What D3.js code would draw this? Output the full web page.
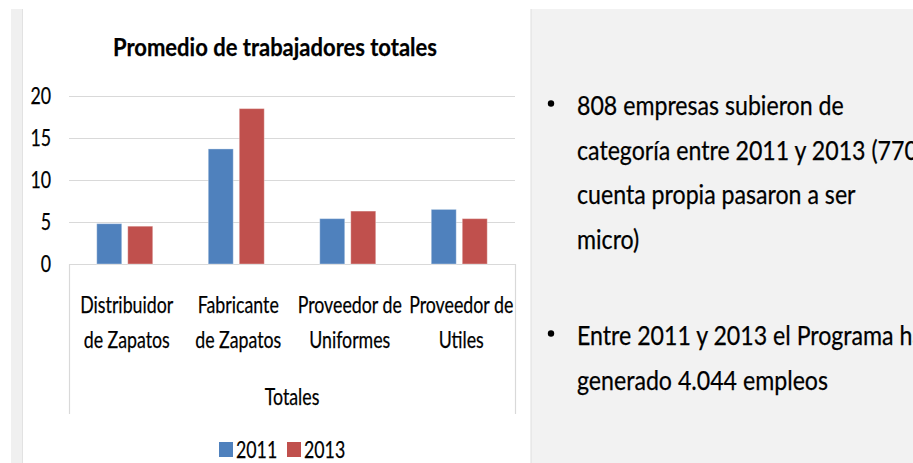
<!DOCTYPE html>
<html>
<head>
<meta charset="utf-8">
<script src="https://cdn.jsdelivr.net/npm/d3@7"></script>
<style>
  html, body { margin: 0; padding: 0; background: #fff; }
  svg { display: block; }
  text { font-family: Lato, "Liberation Sans", Arial, sans-serif; fill: #000; stroke: #000; stroke-width: 0.25px; }
</style>
</head>
<body>
<div id="chart"></div>
<script>
// datos
const categories = ["Distribuidor de Zapatos", "Fabricante de Zapatos", "Proveedor de Uniformes", "Proveedor de Utiles"];
const categoryLines = [["Distribuidor", "de Zapatos"], ["Fabricante", "de Zapatos"], ["Proveedor de", "Uniformes"], ["Proveedor de", "Utiles"]];
const years = ["2011", "2013"];
const values2011 = [4.8, 13.7, 5.4, 6.5];
const values2013 = [4.5, 18.5, 6.3, 5.4];
const yTicks = [0, 5, 10, 15, 20];
const chartTitle = "Promedio de trabajadores totales";
const axisTitle = "Totales";
const notes = [
  ["808 empresas subieron de", "categoría entre 2011 y 2013 (770", "cuenta propia pasaron a ser", "micro)"],
  ["Entre 2011 y 2013 el Programa ha", "generado 4.044 empleos"]
];

const W = 913, H = 463;
const colors = { "2011": "#4f81bd", "2013": "#c0504d" };
const FS = 24;      // texto del grafico
const FS_NOTE = 26.5;

const svg = d3.select("#chart").append("svg")
  .attr("width", W).attr("height", H);

// fondo de la diapositiva
svg.append("rect").attr("x", 11).attr("y", 9).attr("width", 11).attr("height", H - 9).attr("fill", "#f0f0f0");
svg.append("line").attr("x1", 22.5).attr("x2", 22.5).attr("y1", 9).attr("y2", H).attr("stroke", "#e2e2e2");
svg.append("rect").attr("x", 531).attr("y", 9).attr("width", W - 531).attr("height", H - 9).attr("fill", "#f2f2f2");
svg.append("line").attr("x1", 531).attr("x2", 531).attr("y1", 9).attr("y2", H).attr("stroke", "#dedede");

// ancho de texto tipo Calibri comprimido
function measure(str, size, weight) {
  const t = svg.append("text").attr("font-size", size).attr("font-weight", weight || 400).text(str);
  const w = t.node().getComputedTextLength();
  t.remove();
  return w;
}
function squeeze(sel, k) {
  sel.each(function () {
    const w = this.getComputedTextLength();
    d3.select(this).attr("textLength", w * k).attr("lengthAdjust", "spacingAndGlyphs");
  });
}
const kTitle = 324 / measure(chartTitle, 25, 700);
const kChart = 93 / measure("Distribuidor", FS);
const kNote = 266.7 / measure(notes[0][0], FS_NOTE);

// escalas
const x0 = d3.scaleBand().domain(categories).range([69, 515]);
const x1 = d3.scaleBand().domain(years).range([0, x0.bandwidth()]).paddingInner(0.194).paddingOuter(0.895);
const y = d3.scaleLinear().domain([0, 20]).range([264, 96]);

// titulo
svg.append("text")
  .attr("x", 275).attr("y", 56)
  .attr("text-anchor", "middle")
  .attr("font-size", 25).attr("font-weight", 700)
  .text(chartTitle)
  .call(squeeze, kTitle);

// lineas de cuadricula
svg.append("g").selectAll("line")
  .data(yTicks)
  .join("line")
  .attr("x1", 69).attr("x2", 515)
  .attr("y1", d => Math.round(y(d)) + 0.5).attr("y2", d => Math.round(y(d)) + 0.5)
  .attr("stroke", "#d9d9d9").attr("stroke-width", 1.2);

// caja del eje de categorias
svg.append("g").selectAll("line")
  .data([69, 515])
  .join("line")
  .attr("x1", d => d + 0.5).attr("x2", d => d + 0.5)
  .attr("y1", y(0)).attr("y2", 414)
  .attr("stroke", "#d9d9d9").attr("stroke-width", 1.2);

// etiquetas eje y
const yAxis = svg.append("g")
  .attr("transform", "translate(51,0)")
  .call(d3.axisLeft(y).tickValues(yTicks).tickSize(0).tickPadding(0));
yAxis.select(".domain").remove();
yAxis.selectAll("text")
  .attr("font-size", FS)
  .attr("fill", "#000")
  .style("font-family", "Lato, 'Liberation Sans', Arial, sans-serif")
  .call(squeeze, kChart);

// barras
const groups = svg.append("g").selectAll("g")
  .data(categories.map((c, i) => ({ c, vals: [values2011[i], values2013[i]] })))
  .join("g")
  .attr("transform", d => `translate(${x0(d.c)},0)`);

groups.selectAll("rect")
  .data(d => years.map((yr, j) => ({ yr, v: d.vals[j] })))
  .join("rect")
  .attr("x", d => x1(d.yr))
  .attr("y", d => y(d.v))
  .attr("width", x1.bandwidth())
  .attr("height", d => y(0) - y(d.v))
  .attr("fill", d => colors[d.yr])
  .attr("stroke", "#ffffff").attr("stroke-opacity", 0.35).attr("stroke-width", 1);

// etiquetas de categoria
categories.forEach((c, i) => {
  categoryLines[i].forEach((ln, j) => {
    svg.append("text")
      .attr("x", x0(c) + x0.bandwidth() / 2 + 2)
      .attr("y", 313 + j * 35)
      .attr("text-anchor", "middle")
      .attr("font-size", FS)
      .text(ln)
      .call(squeeze, kChart);
  });
});

svg.append("text")
  .attr("x", (69 + 515) / 2).attr("y", 405)
  .attr("text-anchor", "middle")
  .attr("font-size", FS)
  .text(axisTitle)
  .call(squeeze, kChart);

// leyenda
const legend = svg.append("g").selectAll("g")
  .data(years)
  .join("g")
  .attr("transform", (d, i) => `translate(${219 + i * 68},0)`);
legend.append("rect")
  .attr("x", 0).attr("y", 442).attr("width", 14).attr("height", 15)
  .attr("fill", d => colors[d]);
legend.append("text")
  .attr("x", 17).attr("y", 457.5)
  .attr("font-size", FS)
  .text(d => d)
  .call(squeeze, kChart);

// texto del panel derecho
const noteTop = [115, 345];
notes.forEach((block, b) => {
  svg.append("circle")
    .attr("cx", 551).attr("cy", noteTop[b] - 11.5).attr("r", 3.2)
    .attr("fill", "#000");
  block.forEach((ln, j) => {
    svg.append("text")
      .attr("x", 577).attr("y", noteTop[b] + j * 44.5)
      .attr("font-size", FS_NOTE)
      .text(ln)
      .call(squeeze, kNote);
  });
});
</script>
</body>
</html>
